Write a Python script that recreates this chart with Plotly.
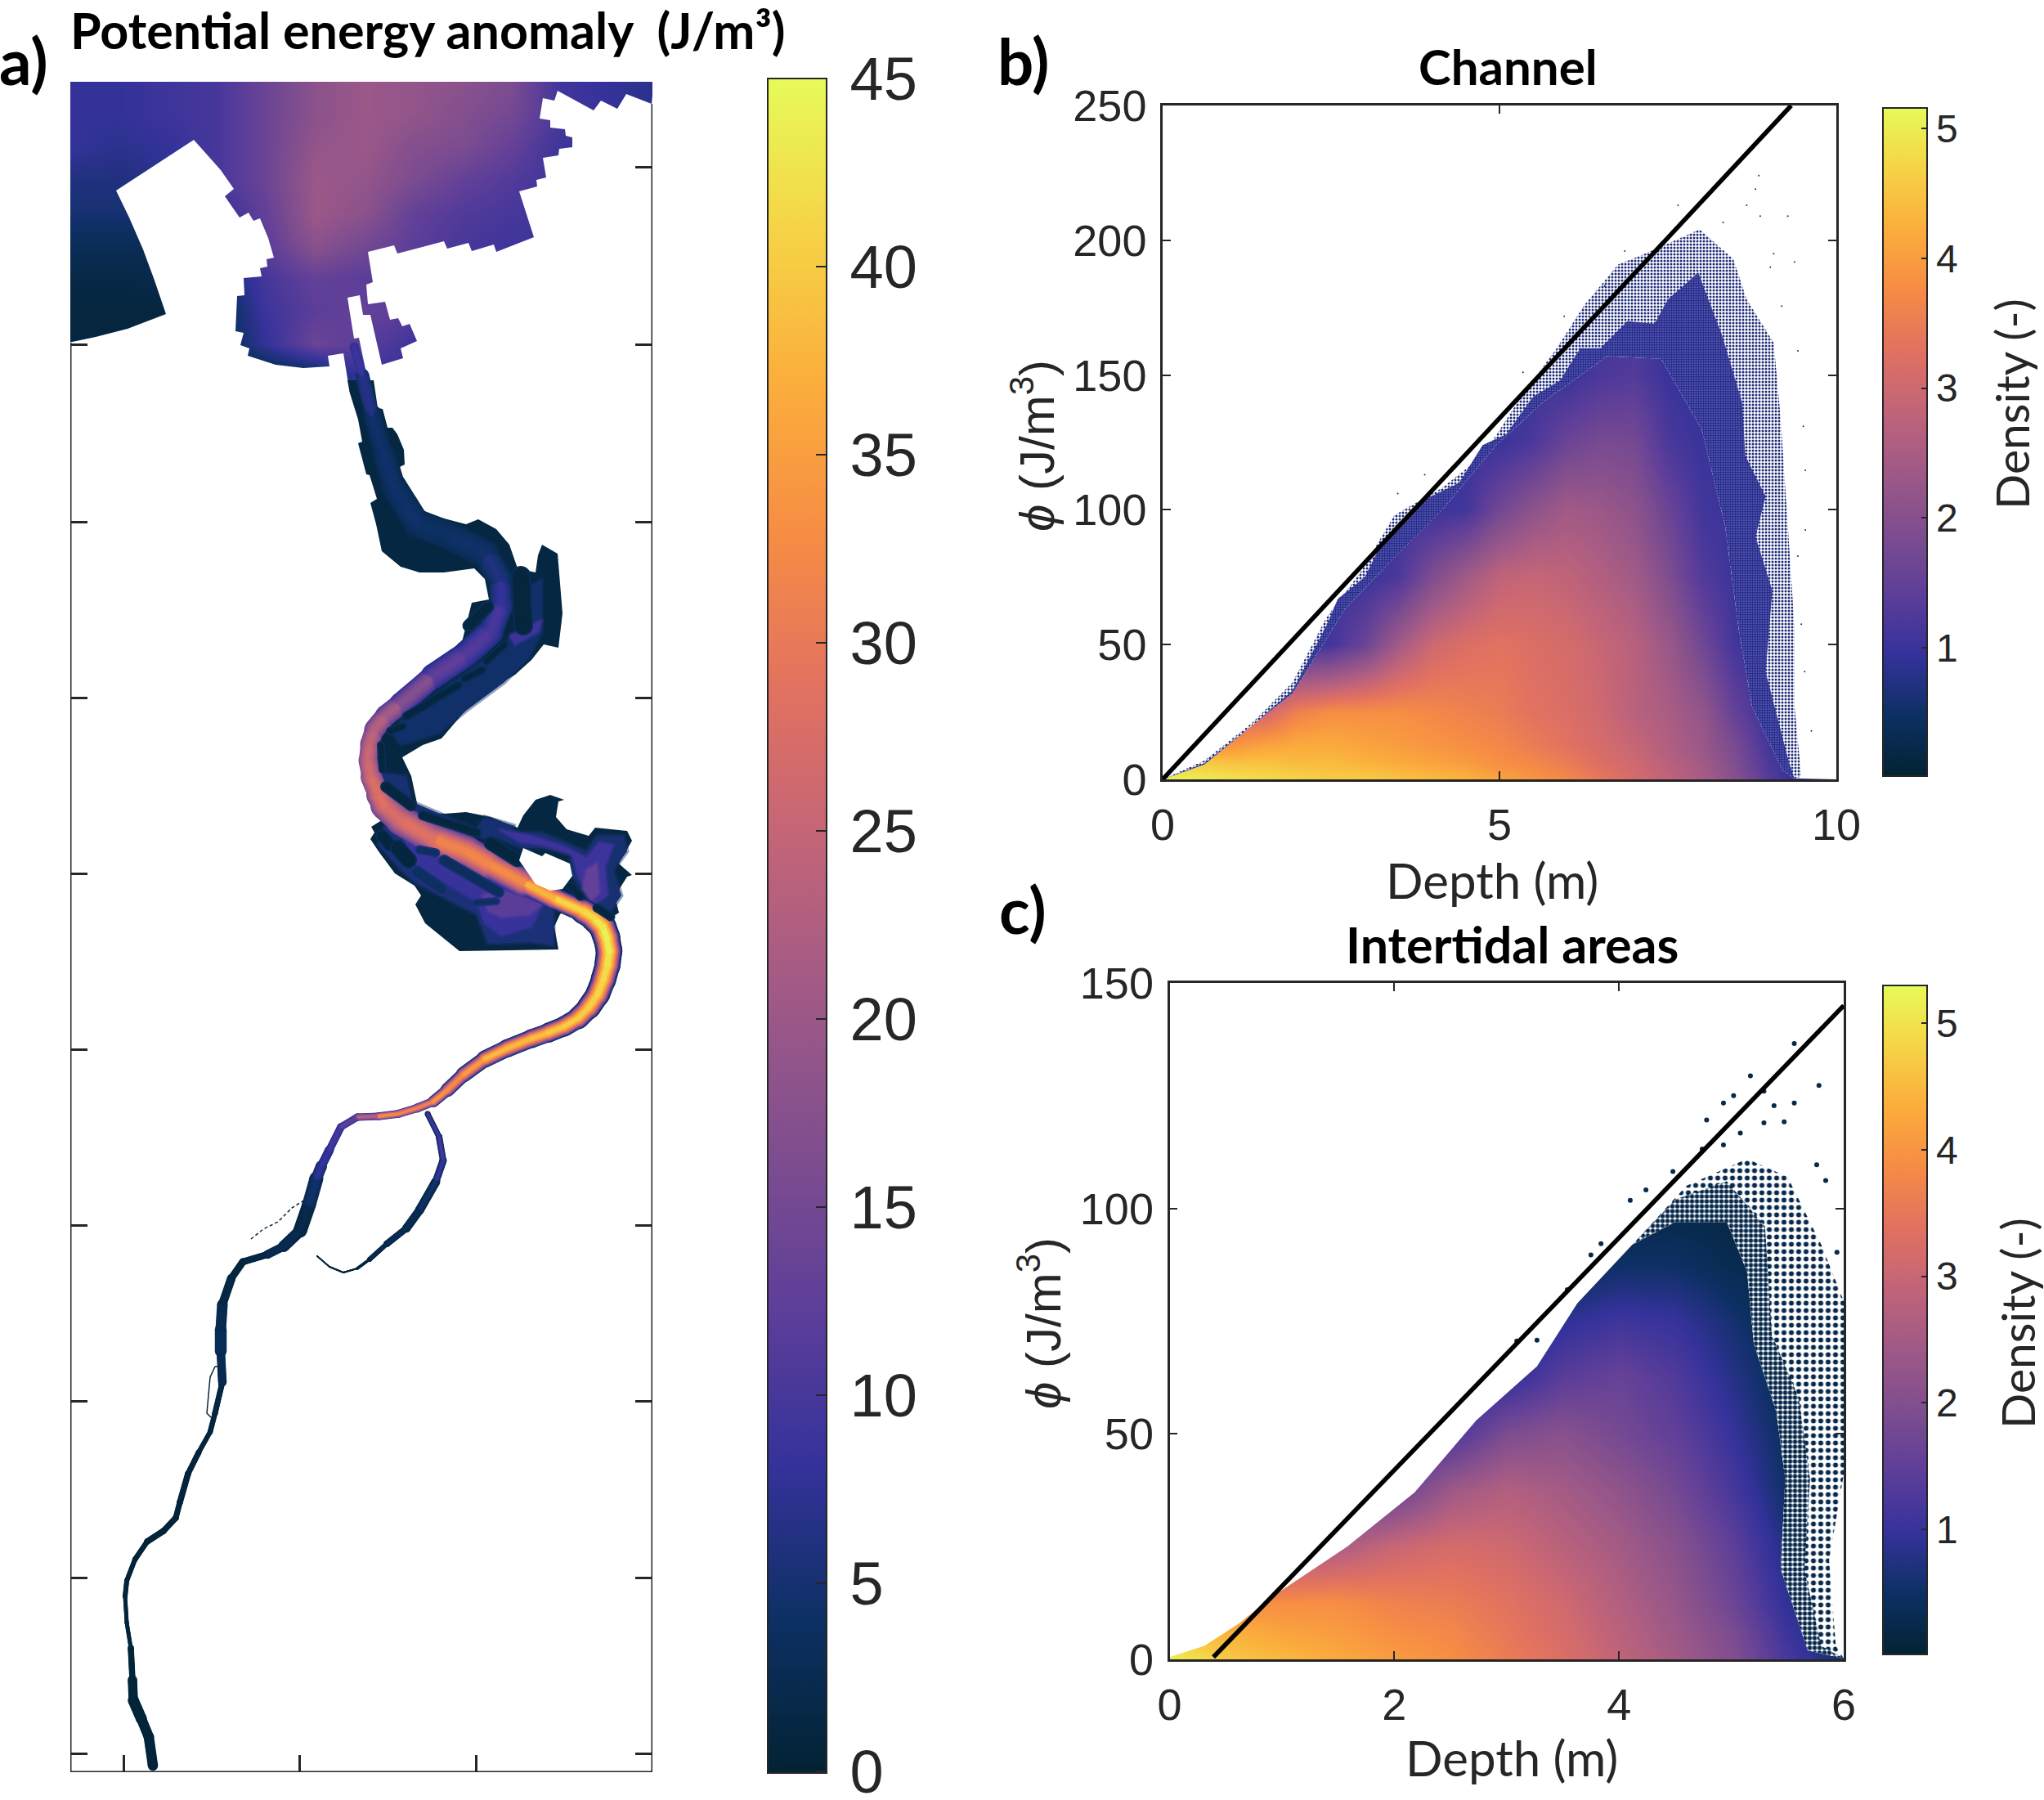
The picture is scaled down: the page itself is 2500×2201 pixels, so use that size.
import plotly.graph_objects as go
from plotly.colors import sample_colorscale

W, H = 2500, 2201
THERMAL = ["rgb(3,35,51)", "rgb(13,48,100)", "rgb(53,50,155)", "rgb(93,62,153)", "rgb(126,77,143)",
           "rgb(158,89,135)", "rgb(193,100,121)", "rgb(225,113,97)", "rgb(246,139,69)",
           "rgb(251,173,60)", "rgb(246,211,70)", "rgb(231,250,90)"]
INK = "#262626"

# ---------- panel a: map (coordinates in reference pixels) ----------
est_x = [86, 146, 206, 266, 326, 386, 446, 506, 566, 626, 686, 746, 798]
est_y = [100, 140, 180, 220, 260, 300, 340, 380, 420, 460]
est_z = [
    [8, 8, 9, 10, 14, 18, 20, 19, 18, 16, 9, 8, 7],
    [8, 8, 9, 10, 14, 18, 20, 19, 17, 15, 10, 8, 7],
    [8, 7, 8, 10, 14, 19, 20, 17, 16, 13, 9, 8, 7],
    [6, 6, 7, 10, 14, 20, 19, 16, 13, 11, 9, 8, 7],
    [5, 5, 5, 8, 13, 20, 18, 13, 11, 10, 9, 8, 7],
    [3, 3, 3, 6, 12, 18, 15, 12, 10, 9, 9, 8, 7],
    [1.5, 1.5, 2, 4, 10, 13, 12, 11, 9, 9, 9, 8, 7],
    [1, 1, 1, 2, 9, 12, 13, 12, 12, 9, 9, 8, 7],
    [1, 1, 1, 2, 8, 14, 12, 9, 11, 9, 9, 8, 7],
    [1, 1, 1, 1, 1, 2, 9, 8, 3, 3, 3, 3, 3],
]
mask_left_x = [237, 142, 158, 175, 189, 203, 156, 117, 84, 84, 430, 428, 420, 401, 403, 371, 337, 303, 305, 294, 298,
               288, 290, 299, 298, 320, 318, 327, 326, 335, 328, 318, 310, 304, 293, 275, 286, 270]
mask_left_y = [171, 233, 266, 305, 343, 384, 402, 412, 419, 490, 490, 481, 432, 435, 448, 450, 446, 435, 426, 422, 407,
               405, 362, 361, 340, 338, 328, 326, 317, 315, 291, 267, 270, 260, 266, 240, 231, 208]
mask_right_x = [800, 797, 766, 755, 735, 726, 682, 678, 664, 660, 673, 673, 691, 692, 700, 700, 684, 683, 664, 668, 656,
                657, 635, 653, 607, 604, 577, 573, 547, 543, 486, 482, 450, 456, 448, 450, 471, 477, 487, 492, 501, 510,
                490, 493, 467, 453, 444, 440, 425, 433, 439, 450, 455, 800]
mask_right_y = [98, 127, 115, 133, 123, 135, 111, 123, 120, 145, 147, 156, 158, 166, 168, 180, 182, 190, 193, 217, 220,
                228, 234, 290, 308, 299, 307, 297, 304, 295, 310, 300, 308, 345, 348, 372, 369, 391, 389, 399, 396, 417,
                426, 438, 446, 385, 385, 361, 364, 414, 413, 465, 490, 490]

upper_x = [450, 457, 462, 468, 474, 480, 486, 494, 495, 487, 485, 483, 488, 498, 512, 530, 547, 570, 585, 607, 623, 633,
           655, 658, 663, 682, 688, 683, 665, 650, 630, 587, 563, 540, 517, 492, 503, 510, 508, 490, 463, 450, 458, 490,
           530, 570, 565, 577, 598, 593, 580, 543, 513, 490, 467, 460, 453, 461, 452, 448, 438, 443, 438, 428, 425]
upper_y = [465, 465, 499, 500, 523, 523, 531, 550, 568, 572, 579, 590, 602, 614, 621, 631, 635, 641, 635, 647, 666, 695,
           700, 679, 666, 677, 750, 792, 788, 807, 825, 850, 876, 903, 911, 926, 949, 982, 991, 1003, 972, 930, 892, 861,
           827, 792, 785, 737, 733, 708, 695, 700, 700, 693, 674, 641, 615, 610, 581, 580, 542, 540, 513, 481, 465]
lower_x = [470, 454, 458, 453, 463, 483, 507, 515, 508, 520, 562, 683, 678, 685, 700, 743, 757, 752, 767, 773, 757, 773,
           767, 728, 720, 693, 680, 683, 690, 673, 655, 640, 633, 600, 570, 543, 517, 507]
lower_y = [1001, 1011, 1018, 1026, 1041, 1068, 1083, 1095, 1106, 1129, 1163, 1161, 1133, 1118, 1105, 1125, 1116, 1096,
           1072, 1070, 1056, 1028, 1016, 1012, 1022, 1014, 999, 980, 978, 972, 978, 997, 1012, 999, 993, 995, 993, 989]
hole_x = [655, 673, 688, 700, 697, 667, 663, 640, 635, 653]
hole_y = [1081, 1089, 1087, 1071, 1056, 1043, 1047, 1037, 1052, 1079]

# flat patches of the marshes, drawn from the outside in: value, x list, y list
zone_low1 = [5.5, [470, 503, 563, 630, 677, 677, 647, 597, 583, 537, 507, 487, 463],
             [1010, 1007, 1033, 1072, 1106, 1156, 1152, 1154, 1118, 1094, 1079, 1060, 1033]]
zone_low2 = [8.5, [503, 563, 630, 663, 650, 613, 593, 583, 543, 510, 490],
             [1014, 1037, 1075, 1106, 1133, 1144, 1129, 1102, 1079, 1060, 1037]]
zone_low3 = [12, [610, 663, 647, 613, 597, 590], [1087, 1106, 1118, 1121, 1114, 1095]]
zone_wing1 = [5, [597, 637, 663, 690, 717, 730, 763, 767, 750, 760, 747, 723, 700, 697, 663, 637, 603],
              [1007, 1018, 1018, 1030, 1041, 1022, 1022, 1041, 1064, 1095, 1114, 1106, 1071, 1045, 1037, 1037, 1022]]
zone_wing2 = [9, [610, 650, 690, 717, 733, 750, 740, 743, 727, 707, 700, 663, 637],
              [1014, 1022, 1035, 1049, 1030, 1033, 1060, 1095, 1106, 1071, 1045, 1033, 1030]]
zone_wing3 = [13, [717, 730, 733, 723, 713], [1064, 1056, 1091, 1102, 1087]]
zone_marsh1 = [4.5, [490, 537, 570, 617, 647, 663, 663, 650, 647, 623, 597, 563, 497, 480],
               [911, 896, 869, 834, 804, 773, 708, 716, 765, 781, 804, 827, 873, 896]]
zone_marsh2 = [9, [623, 663, 658, 630], [777, 758, 773, 788]]
zone_left = [5, [463, 497, 503, 583, 593, 630, 597, 497], [945, 949, 980, 1014, 999, 1010, 1026, 995]]
zones = [zone_marsh1, zone_marsh2, zone_left, zone_low1, zone_low2, zone_low3, zone_wing1, zone_wing2, zone_wing3]

main_x = [187, 182, 173, 163, 162, 160, 155, 153, 155, 165, 180, 200, 215, 220, 230, 243, 257, 263, 272, 270, 270, 272,
          283, 297, 327, 347, 367, 378, 387, 393, 403, 417, 437, 463, 487, 510, 530, 547, 567, 593, 620, 650, 670, 690, 707, 720, 731,
          738, 743, 745, 742, 737, 726, 713, 677, 640, 597, 570, 530, 490, 470, 463, 454, 450, 452, 458, 472, 490, 530, 570, 600, 613, 612, 593, 547, 510,
          481, 469, 455, 443, 433]
main_y = [2159, 2124, 2102, 2079, 2054, 2015, 1984, 1952, 1933, 1907, 1885, 1872, 1856, 1837, 1802, 1776, 1751, 1728, 1690,
          1652, 1626, 1595, 1563, 1543, 1534, 1524, 1505, 1473, 1441, 1426, 1406, 1378, 1366, 1365, 1362, 1355, 1347,
          1333, 1314, 1295, 1282, 1270, 1263, 1255, 1245, 1232, 1216, 1198, 1180, 1163, 1147, 1133, 1122, 1114, 1098, 1079, 1056, 1041, 1026, 1003, 985, 972, 950, 930,
          910, 892, 875, 861, 827, 800, 773, 739, 708, 677, 654, 640, 594, 554, 507, 459, 424]
main_w = [13, 12, 13, 14, 9, 6, 4, 6, 6, 6, 7, 8, 7, 7, 8, 6, 6, 7, 7, 14, 15, 11, 10, 8, 9, 12, 16, 18, 16, 12, 10, 9, 9, 9, 10,
          10, 12, 16, 18, 20, 22, 22, 24, 24, 26, 28, 30, 30, 32, 32, 33, 34, 32, 30, 24, 30, 36, 40, 38, 36, 32, 28, 24, 22, 22, 24, 26, 26, 30, 32, 32, 28, 28, 34,
          36, 34, 30, 28, 20, 14, 8]
main_v = [0.6, 0.6, 0.6, 0.6, 0.6, 0.6, 0.6, 0.6, 0.6, 0.6, 0.6, 0.6, 0.6, 0.6, 1, 1, 1, 1, 2, 3, 3, 2, 1, 1, 2, 3, 2, 2, 7,
          8, 9, 11, 15, 32, 34, 30, 33, 35, 31, 38, 38, 38, 39, 40, 40, 40, 41, 41, 42, 43, 44, 44, 42, 41, 41, 34, 31, 33, 30, 27, 28, 29, 27, 26, 25, 24, 22, 20,
          14, 11, 11, 9, 7, 5, 4, 4, 5, 4, 5, 8, 10]
main_e = [0.6, 0.6, 0.6, 0.6, 0.6, 0.6, 0.6, 0.6, 0.6, 0.6, 0.6, 0.6, 0.6, 0.6, 1, 1, 1, 1, 1.5, 3, 3, 2, 1, 1, 1.5, 1.5, 1,
          1, 4, 5, 6, 7, 8, 8, 8, 8, 6, 3, 3, 3, 3, 3, 2.5, 2, 2, 2, 1.5, 1.5, 1.5, 1.5, 1.5, 1.5, 2, 2, 4, 10, 12, 12, 12, 14, 15, 16, 17, 18, 16, 14, 12, 10, 7, 6, 5,
          4, 3, 2.5, 2.5, 2.5, 2.5, 1.5, 3, 6, 9]

branch_x = [523, 537, 542, 533, 513, 497, 473, 452, 437, 420, 403, 388]
branch_y = [1362, 1390, 1419, 1445, 1480, 1502, 1521, 1540, 1551, 1556, 1549, 1536]
branch_w = [6, 8, 8, 10, 12, 9, 7, 5, 2, 2, 2, 1.5]
branch_v = [9, 10, 10, 7, 2, 3, 3, 1.5, 0.5, 0.5, 0.5, 0.5]
branch_e = [1, 1, 3, 1, 1, 2, 1, 1, 0.5, 0.5, 0.5, 0.5]

# darker islands: start x, start y, end x, end y, width, value
islands = [
    [467, 1022, 477, 1033, 12, 1], [487, 1037, 500, 1052, 16, 1], [513, 1039, 533, 1043, 7, 4], [543, 1052, 610, 1091, 10, 3.5],
    [510, 1066, 540, 1087, 12, 4], [582, 1104, 607, 1102, 6, 4], [600, 1031, 633, 1052, 13, 1], [517, 997, 583, 1018, 8, 1],
    [472, 962, 503, 985, 10, 1], [466, 911, 468, 941, 6, 1], [477, 894, 493, 888, 6, 1], [497, 876, 560, 838, 7, 1],
    [568, 830, 590, 819, 6, 1], [595, 809, 617, 788, 6, 1], [573, 765, 597, 742, 11, 1], [697, 1083, 710, 1096, 7, 1],
    [730, 1110, 747, 1121, 7, 1], [637, 704, 640, 765, 20, 0.8],
]
side_dash_x = [307, 322, 340, 357, 373]
side_dash_y = [1515, 1503, 1494, 1477, 1467]
ring_x = [263, 257, 253, 260, 268, 267, 263]
ring_y = [1671, 1684, 1728, 1735, 1697, 1671, 1671]

map_ticks_x = [151, 366, 582]
map_ticks_y = [204, 421, 638, 853, 1068, 1283, 1498, 1713, 1929, 2144]
bar_a_ticks = [0, 5, 10, 15, 20, 25, 30, 35, 40, 45]

# ---------- panel b ----------
b_x = [0, .5, 1, 1.5, 2, 2.5, 3, 3.5, 4, 4.5, 5, 5.5, 6, 6.5, 7, 7.5, 8, 8.5, 9, 9.5, 10]
b_y = [0, 6, 12.5, 25, 50, 75, 100, 125, 150, 200, 250]
b_z = [
    [5.1, 5.0, 4.9, 4.8, 4.7, 4.6, 4.6, 4.5, 4.4, 4.3, 4.1, 3.9, 3.7, 3.4, 3.1, 2.8, 2.5, 2.0, 1.3, 0.8, 0.7],
    [4.6, 4.6, 4.5, 4.5, 4.4, 4.4, 4.3, 4.2, 4.1, 4.0, 3.8, 3.7, 3.5, 3.2, 3.0, 2.7, 2.4, 1.9, 1.2, 0.8, 0.7],
    [3.9, 3.9, 3.9, 4.1, 4.2, 4.2, 4.1, 4.0, 3.9, 3.8, 3.7, 3.5, 3.3, 3.1, 2.9, 2.6, 2.3, 1.8, 1.1, 0.8, 0.7],
    [3.0, 3.0, 3.0, 3.0, 3.6, 3.8, 3.8, 3.8, 3.7, 3.6, 3.5, 3.3, 3.2, 3.0, 2.7, 2.5, 2.2, 1.5, 1.0, 0.8, 0.7],
    [1.0, 1.0, 1.0, 1.0, 1.0, 1.1, 1.6, 2.4, 3.0, 3.2, 3.3, 3.2, 3.1, 2.9, 2.7, 2.3, 1.7, 1.1, 0.9, 0.8, 0.7],
    [1.0, 1.0, 1.0, 1.0, 1.0, 1.0, 1.0, 1.2, 1.9, 2.4, 2.8, 2.9, 2.8, 2.6, 2.4, 1.9, 1.3, 1.0, 0.9, 0.8, 0.7],
    [1.0, 1.0, 1.0, 1.0, 1.0, 1.0, 1.0, 1.0, 1.0, 1.1, 1.7, 2.1, 2.4, 2.3, 2.1, 1.6, 1.1, 1.0, 0.9, 0.8, 0.7],
    [1.0, 1.0, 1.0, 1.0, 1.0, 1.0, 1.0, 1.0, 1.0, 1.0, 1.0, 1.2, 1.6, 1.8, 1.75, 1.2, 1.0, 1.0, 0.9, 0.8, 0.7],
    [1.0, 1.0, 1.0, 1.0, 1.0, 1.0, 1.0, 1.0, 1.0, 1.0, 1.0, 1.0, 1.0, 1.2, 1.3, 1.0, 0.9, 0.9, 0.8, 0.8, 0.7],
    [0.9, 0.9, 0.9, 0.9, 0.9, 0.9, 0.9, 0.9, 0.9, 0.9, 0.9, 0.9, 0.9, 0.9, 0.9, 0.9, 0.9, 0.8, 0.8, 0.8, 0.7],
    [0.8, 0.8, 0.8, 0.8, 0.8, 0.8, 0.8, 0.8, 0.8, 0.8, 0.8, 0.8, 0.8, 0.8, 0.8, 0.8, 0.8, 0.8, 0.8, 0.8, 0.7],
]
b_solid_x = [0, .62, 1.33, 1.93, 2.7, 3.35, 4.15, 4.95, 5.65, 6.6, 7.4, 8.0, 8.35, 8.55, 8.75, 9.2, 9.38]
b_solid_y = [0, 5.5, 20, 32, 63, 80, 100, 124, 140, 157, 156, 130, 94, 56, 27, 3.5, 0.4]
b_mid_x = [0, .62, 1.33, 1.93, 2.45, 2.6, 3.0, 3.2, 3.7, 3.9, 4.4, 4.75, 5.1, 5.5, 5.9, 6.2, 6.5, 6.9, 7.3, 7.5, 7.95, 8.2,
           8.3, 8.6, 8.65, 8.95, 8.8, 9.05, 8.95, 9.3, 9.38]
b_mid_y = [0, 6, 20, 33, 58, 67, 75, 85, 98, 104, 110, 124, 128, 142, 148, 160, 160, 170, 169, 178, 188, 172,
           165, 140, 120, 105, 90, 70, 40, 6, 0.4]
b_edge_x = [.62, 1.33, 1.93, 2.43, 2.94, 3.44, 4.14, 4.75, 5.35, 5.85, 6.26, 6.76, 7.16, 7.97, 8.47, 8.67, 9.07, 9.17, 9.28,
            9.38, 9.38, 9.48]
b_edge_y = [7, 21, 36, 60, 77, 98, 108, 120, 143, 160, 176, 191, 195, 204, 193, 178, 162, 135, 94, 56, 27, 1]
b_dots_x = [8.85, 8.80, 8.67, 8.87, 9.28, 8.32, 7.65, 9.02, 9.38, 9.07, 9.19, 9.43, 9.51, 9.54, 9.54, 9.43, 9.48, 9.63, 9.53,
            3.89, 5.35, 5.96, 6.56, 6.86, 3.49]
b_dots_y = [224, 219, 213, 209, 209, 206.6, 213, 190, 192, 195, 175.6, 159, 131, 114.7, 92.5, 82.8, 57.6, 18, 40,
            113, 151, 171.8, 183, 196, 106]
b_line_x = [0, 9.33]
b_line_y = [0, 250]

# ---------- panel c ----------
c_x = [0, .5, 1, 1.5, 2, 2.5, 3, 3.5, 4, 4.5, 5, 5.5, 6]
c_y = [0, 6, 12.5, 25, 37.5, 50, 62.5, 75, 87.5, 100, 150]
c_z = [
    [5.2, 4.7, 4.5, 4.3, 4.1, 3.9, 3.6, 3.3, 2.9, 2.5, 2.0, 1.2, 0.5],
    [4.6, 4.4, 4.2, 4.1, 3.9, 3.8, 3.5, 3.2, 2.8, 2.4, 1.9, 1.05, 0.5],
    [3.9, 3.9, 3.9, 3.9, 3.7, 3.6, 3.4, 3.1, 2.7, 2.3, 1.7, 0.9, 0.5],
    [2.4, 2.4, 2.4, 2.6, 3.0, 3.2, 3.1, 2.8, 2.5, 2.1, 1.5, 0.7, 0.4],
    [1.2, 1.2, 1.2, 1.3, 1.6, 2.4, 2.7, 2.5, 2.2, 1.8, 1.2, 0.5, 0.3],
    [0.9, 0.9, 0.9, 0.9, 0.9, 1.2, 1.9, 2.1, 1.8, 1.5, 1.0, 0.4, 0.3],
    [0.7, 0.7, 0.7, 0.7, 0.7, 0.7, 0.9, 1.4, 1.6, 1.3, 0.8, 0.3, 0.2],
    [0.5, 0.5, 0.5, 0.5, 0.5, 0.5, 0.5, 0.9, 1.1, 1.0, 0.6, 0.25, 0.2],
    [0.3, 0.3, 0.3, 0.3, 0.3, 0.3, 0.3, 0.3, 0.5, 0.5, 0.3, 0.2, 0.15],
    [0.2, 0.2, 0.2, 0.2, 0.2, 0.2, 0.2, 0.2, 0.2, 0.2, 0.2, 0.15, 0.1],
    [0.1, 0.1, 0.1, 0.1, 0.1, 0.1, 0.1, 0.1, 0.1, 0.1, 0.1, 0.1, 0.1],
]
c_solid_x = [0, .31, .62, .92, 1.58, 2.18, 2.73, 3.27, 3.63, 4.12, 4.5, 4.96, 5.14, 5.2, 5.4, 5.48, 5.44, 5.68, 6]
c_solid_y = [0.5, 3, 8, 14, 25, 37, 53, 65, 79, 92, 97, 97, 86, 70, 55, 40, 20, 2, 0.2]
c_mid_x = [4.12, 4.5, 4.96, 5.3, 5.36, 5.6, 5.7, 5.65, 5.8, 6]
c_mid_y = [92, 102, 106, 96, 72, 58, 40, 20, 3, 0.2]
c_edge_x = [4.12, 4.6, 5.14, 5.5, 5.8, 6, 6, 5.87, 5.93, 6]
c_edge_y = [92, 105, 111, 107, 92, 79.5, 41, 22, 3, 0.2]
c_dots_x = [4.10, 4.24, 4.48, 4.74, 4.78, 4.93, 5.02, 5.17, 5.29, 5.56, 5.78, 5.38, 5.56, 5.47, 5.29, 4.93, 5.08, 3.84, 3.75,
            3.54, 3.27, 3.09, 5.76, 5.84, 5.94]
c_dots_y = [101.8, 104.1, 108.2, 113.2, 119.6, 123.4, 125, 129.4, 126, 136.6, 127.3, 122.8, 123.4, 119.2, 119, 114.1, 116.7,
            92.2, 89.7, 82, 70.8, 70.6, 109.7, 106.2, 90.3]
c_line_x = [0.39, 6]
c_line_y = [0.5, 145]

AMAX = 45
def col(v):
    return sample_colorscale(THERMAL, max(0, min(1, v / AMAX)))[0]

fig = go.Figure()
MAP = dict(xaxis="x", yaxis="y", showlegend=False, hoverinfo="skip")

def poly(xs, ys, color, soft=False):
    edge = color.replace("rgb(", "rgba(").replace(")", ",0.45)") if soft else color
    fig.add_trace(go.Scatter(x=xs + xs[:1], y=ys + ys[:1], mode="lines", fill="toself", fillcolor=color,
                             line=dict(width=5 if soft else 0, color=edge), **MAP))

def seg(x0, y0, x1, y1, w, color):
    fig.add_trace(go.Scatter(x=[x0, x1], y=[y0, y1], mode="lines+markers",
                             line=dict(width=w, color=color), marker=dict(size=w, color=color, line=dict(width=0)), **MAP))

LAYERS = [(1.0, 0.0), (0.92, 0.18), (0.82, 0.38), (0.7, 0.58), (0.56, 0.76), (0.4, 0.9), (0.22, 1.0)]
def ribbon(xs, ys, ws, vs, es):
    for frac, mix in LAYERS:
        for i in range(len(xs) - 1):
            w = (ws[i] + ws[i + 1]) / 2 * frac
            v = (vs[i] + vs[i + 1]) / 2
            e = (es[i] + es[i + 1]) / 2
            if w >= 1.2 or frac == 1.0:
                seg(xs[i], ys[i], xs[i + 1], ys[i + 1], w, col(e + (v - e) * mix))

pad = "\u2006"
fig.add_trace(go.Heatmap(x=est_x, y=est_y, z=est_z, zmin=-0.05, zmax=AMAX, zsmooth="best", colorscale=THERMAL,
                         xaxis="x", yaxis="y", hoverinfo="skip",
                         colorbar=dict(x=939 / W, xanchor="left", xpad=0, y=1 - 96 / H, yanchor="top", ypad=0,
                                       lenmode="pixels", len=2072, thicknessmode="pixels", thickness=72,
                                       outlinewidth=2, outlinecolor=INK, tickvals=bar_a_ticks,
                                       ticktext=[pad + str(t) for t in bar_a_ticks], ticks="inside",
                                       ticklen=14, tickwidth=2, tickcolor=INK, ticklabeloverflow="allow",
                                       tickfont=dict(family="Liberation Sans", size=74, color=INK))))
poly(mask_left_x, mask_left_y, "white")
poly(mask_right_x, mask_right_y, "white")
base = col(1.2)
poly(upper_x, upper_y, base)
poly(lower_x, lower_y, base)
for value, zx, zy in zones:
    poly(zx, zy, col(value), soft=True)
ribbon(branch_x, branch_y, branch_w, branch_v, branch_e)
ribbon(main_x, main_y, main_w, main_v, main_e)
for x0, y0, x1, y1, w, v in islands:
    seg(x0, y0, x1, y1, w + 4, col(v + 2))
    seg(x0, y0, x1, y1, w, col(v))
poly(hole_x, hole_y, "white")
fig.add_trace(go.Scatter(x=side_dash_x, y=side_dash_y, mode="lines", line=dict(width=1.5, color=base, dash="4px,3px"), **MAP))
fig.add_trace(go.Scatter(x=ring_x, y=ring_y, mode="lines", line=dict(width=1.5, color=base), **MAP))
fig.add_trace(go.Scatter(x=[86, 86, 798, 798], y=[419, 2167, 2167, 127], mode="lines", line=dict(width=3, color=INK), **MAP))
fig.add_trace(go.Scatter(x=[798], y=[2167], mode="markers", marker=dict(opacity=0), xaxis="x", yaxis="y2",
                         showlegend=False, hoverinfo="skip"))

def density(ax, ay, xs, ys, zs, zmax, cb_top, cb_len):
    fig.add_trace(go.Heatmap(x=xs, y=ys, z=zs, zmin=0.01, zmax=zmax, zsmooth="best", colorscale=THERMAL,
                             xaxis=ax, yaxis=ay, hoverinfo="skip",
                             colorbar=dict(x=2303 / W, xanchor="left", xpad=0, y=1 - cb_top / H, yanchor="top", ypad=0,
                                           lenmode="pixels", len=cb_len, thicknessmode="pixels", thickness=54,
                                           outlinewidth=2, outlinecolor=INK, tickvals=[1, 2, 3, 4, 5], ticks="inside",
                                           ticklen=8, tickwidth=2, tickcolor=INK,
                                           tickfont=dict(family="Liberation Sans", size=48, color=INK))))

def pattern(ax, ay, xs, ys, fg, size, solidity):
    fig.add_trace(go.Scatter(x=xs, y=ys, mode="lines", fill="toself", fillcolor="rgba(0,0,0,0)", line=dict(width=0),
                             fillpattern=dict(shape=".", fgcolor=fg, bgcolor="white", size=size, solidity=solidity, fillmode="replace"),
                             xaxis=ax, yaxis=ay, showlegend=False, hoverinfo="skip"))

def band(ax, ay, xs, ys, color):
    fig.add_trace(go.Scatter(x=xs, y=ys, mode="lines", fill="toself", fillcolor=color, line=dict(width=0),
                             xaxis=ax, yaxis=ay, showlegend=False, hoverinfo="skip"))

def black_line(ax, ay, xs, ys):
    fig.add_trace(go.Scatter(x=xs, y=ys, mode="lines", line=dict(width=5.5, color="black"),
                             xaxis=ax, yaxis=ay, showlegend=False, hoverinfo="skip"))

# panel b
density("x2", "y3", b_x, b_y, b_z, 5.16, 132, 817)
band("x2", "y3", b_solid_x + [10, 10, 0, 0], b_solid_y + [0, 250, 250, 0], "white")
pattern("x2", "y3", b_edge_x + b_solid_x[::-1], b_edge_y + b_solid_y[::-1], "rgb(28,42,120)", 4, 0.45)
pattern("x2", "y3", b_mid_x + b_solid_x[::-1], b_mid_y + b_solid_y[::-1], "rgb(42,46,145)", 3, 0.85)
fig.add_trace(go.Scatter(x=b_dots_x, y=b_dots_y, mode="markers", marker=dict(size=2, color="rgb(13,48,100)", line=dict(width=0)),
                         xaxis="x2", yaxis="y3", showlegend=False, hoverinfo="skip"))
black_line("x2", "y3", b_line_x, b_line_y)

# panel c
density("x3", "y4", c_x, c_y, c_z, 5.30, 1205, 818)
band("x3", "y4", c_solid_x + [6.1, 6.1, 0, 0], c_solid_y + [0, 150, 150, 0.5], "white")
pattern("x3", "y4", c_edge_x + c_solid_x[:8:-1], c_edge_y + c_solid_y[:8:-1], col(2), 9, 0.36)
pattern("x3", "y4", c_mid_x + c_solid_x[:8:-1], c_mid_y + c_solid_y[:8:-1], col(2), 6, 0.62)
fig.add_trace(go.Scatter(x=c_dots_x, y=c_dots_y, mode="markers", marker=dict(size=6, color=col(2), line=dict(width=0)),
                         xaxis="x3", yaxis="y4", showlegend=False, hoverinfo="skip"))
black_line("x3", "y4", c_line_x, c_line_y)

def dx(a, b):
    return [a / W, b / W]
def dy(top, bottom):
    return [1 - bottom / H, 1 - top / H]

TICKFONT = dict(family="Liberation Sans", size=54, color=INK)
def frame(vals, rng, anchor):
    return dict(range=rng, tickvals=vals, ticks="inside", ticklen=10, tickwidth=2, tickcolor=INK, showline=True, linewidth=2.5,
                linecolor=INK, mirror="ticks", showgrid=False, zeroline=False, tickfont=TICKFONT, anchor=anchor, automargin=False,
                ticklabelstandoff=6)

MAPAX = dict(ticks="inside", ticklen=21, tickwidth=3, tickcolor=INK, showgrid=False, zeroline=False, showline=False,
             showticklabels=False, automargin=False)
fig.update_layout(
    width=W, height=H, margin=dict(l=0, r=0, t=0, b=0, autoexpand=False), paper_bgcolor="white", plot_bgcolor="white", showlegend=False,
    xaxis=dict(domain=dx(86, 798), range=[86, 798], tickvals=map_ticks_x, anchor="y", **MAPAX),
    yaxis=dict(domain=dy(100, 2167), range=[2167, 100], tickvals=map_ticks_y[1:], anchor="x", **MAPAX),
    yaxis2=dict(domain=dy(100, 2167), range=[2167, 100], tickvals=map_ticks_y, anchor="x", overlaying="y", side="right", **MAPAX),
    xaxis2=dict(domain=dx(1422, 2246), **frame([0, 5, 10], [0, 10], "y3")),
    yaxis3=dict(domain=dy(129, 953), **frame([0, 50, 100, 150, 200, 250], [0, 250], "x2")),
    xaxis3=dict(domain=dx(1430.5, 2255), **frame([0, 2, 4, 6], [0, 6], "y4")),
    yaxis4=dict(domain=dy(1202, 2029), **frame([0, 50, 100, 150], [0, 150], "x3")),
)

LATO = "Lato"
ARIAL = "Liberation Sans"
def label(text, x, y, size, family=LATO, bold=False, angle=0):
    t = f"<b>{text}</b>" if bold else text
    fig.add_annotation(text=t, xref="paper", yref="paper", x=x / W, y=1 - y / H, xanchor="center", yanchor="middle",
                       showarrow=False, textangle=angle, font=dict(family=family, size=size, color="black" if bold else INK))

label("Potential energy anomaly  (J/m³)", 523, 36, 61, bold=True)
label("a)", 29, 74, 78, bold=True)
label("b)", 1251, 74, 78, bold=True)
label("c)", 1251, 1112, 78, bold=True)
label("Channel", 1844, 81, 60, bold=True)
label("Intertidal areas", 1849, 1154, 61, bold=True)
label("Depth (m)", 1825, 1076, 60)
label("Depth (m)", 1849, 2149, 60)
label("Density (-)", 2460, 494, 57, angle=-90)
label("Density (-)", 2467, 1618, 57, angle=-90)
label("<i>ϕ</i> (J/m<sup>3</sup>)", 1264, 545, 60, family=ARIAL, angle=-90)
label("<i>ϕ</i> (J/m<sup>3</sup>)", 1272, 1618, 60, family=ARIAL, angle=-90)

fig.write_html("out.html", post_script="document.body.style.margin='0';", config=dict(displayModeBar=False))
